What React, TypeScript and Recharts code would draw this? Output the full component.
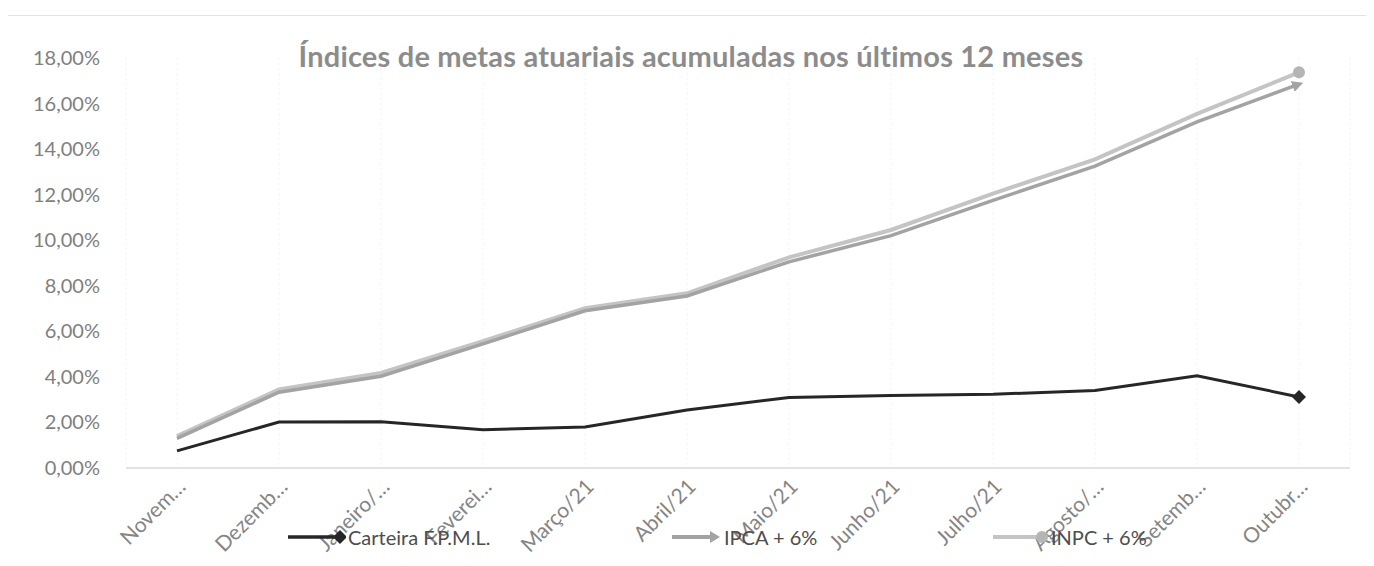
import React from "react";
import { LineChart, Line, XAxis, YAxis, CartesianGrid, Legend } from "recharts";

const months = [
  "Novem…",
  "Dezemb…",
  "Janeiro/…",
  "Feverei…",
  "Março/21",
  "Abril/21",
  "Maio/21",
  "Junho/21",
  "Julho/21",
  "Agosto/…",
  "Setemb…",
  "Outubr…",
];
const carteira = [0.75, 2.02, 2.03, 1.68, 1.8, 2.55, 3.1, 3.18, 3.24, 3.4, 4.05, 3.12];
const ipca = [1.3, 3.33, 4.03, 5.45, 6.9, 7.55, 9.05, 10.2, 11.75, 13.25, 15.2, 16.85];
const inpc = [1.4, 3.45, 4.17, 5.57, 7.02, 7.67, 9.25, 10.45, 12.05, 13.55, 15.55, 17.37];
const yTicks = [0, 2, 4, 6, 8, 10, 12, 14, 16, 18];

const seriesNames = ["Carteira F.P.M.L.", "IPCA + 6%", "INPC + 6%"];

const data = months.map((m, i) => ({
  month: m,
  carteira: carteira[i],
  ipca: ipca[i],
  inpc: inpc[i],
}));

const FONT = "Lato, 'Noto Sans', sans-serif";
const C_CART = "#262626";
const C_IPCA = "#a3a3a3";
const C_INPC = "#c4c4c4";
const last = months.length - 1;

const fmtPct = (v: number) => v.toFixed(2).replace(".", ",") + "%";

const XTick = (props: any) => {
  const { x, y, payload } = props;
  const ax = x + 10;
  const ay = y + 12;
  return (
    <text
      x={ax}
      y={ay}
      transform={`rotate(-45, ${ax}, ${ay})`}
      textAnchor="end"
      fill="#858585"
      fontSize={21}
      fontFamily={FONT}
    >
      {payload.value}
    </text>
  );
};

const YTick = (props: any) => {
  const { x, y, payload } = props;
  return (
    <text x={x} y={y} dy={7} textAnchor="end" fill="#808080" fontSize={20} fontFamily={FONT}>
      {fmtPct(payload.value)}
    </text>
  );
};

const diamondDot = (props: any) => {
  const { cx, cy, index } = props;
  if (index !== last) return <g key={`cd-${index}`} />;
  return (
    <path
      key={`cd-${index}`}
      d={`M${cx},${cy - 7} L${cx + 7},${cy} L${cx},${cy + 7} L${cx - 7},${cy} Z`}
      fill={C_CART}
    />
  );
};

const circleDot = (props: any) => {
  const { cx, cy, index } = props;
  if (index !== last) return <g key={`id-${index}`} />;
  return <circle key={`id-${index}`} cx={cx} cy={cy} r={6} fill="#b5b5b5" />;
};

const LegendIcon = ({ kind }: { kind: number }) => {
  if (kind === 0)
    return (
      <svg width={58} height={20}>
        <line x1={0} y1={10} x2={52} y2={10} stroke={C_CART} strokeWidth={3.5} />
        <path d="M52,3 L59,10 L52,17 L45,10 Z" fill={C_CART} />
      </svg>
    );
  if (kind === 1)
    return (
      <svg width={50} height={20}>
        <line x1={0} y1={10} x2={40} y2={10} stroke={C_IPCA} strokeWidth={4} />
        <path d="M38,4 L48,10 L38,16 Z" fill={C_IPCA} />
      </svg>
    );
  return (
    <svg width={56} height={20}>
      <line x1={0} y1={10} x2={50} y2={10} stroke={C_INPC} strokeWidth={4} />
      <circle cx={49} cy={10} r={6} fill="#b5b5b5" />
    </svg>
  );
};

const legendLefts = [280, 664, 985];

const LegendContent = () => (
  <div style={{ position: "relative", width: 1366, height: 0 }}>
    {seriesNames.map((name, i) => (
      <div
        key={name}
        style={{
          position: "absolute",
          left: legendLefts[i],
          top: 517,
          display: "flex",
          alignItems: "center",
          fontFamily: FONT,
          fontSize: 20,
          color: "#4d4d4d",
          whiteSpace: "nowrap",
        }}
      >
        <LegendIcon kind={i} />
        <span style={{ marginLeft: 2 }}>{name}</span>
      </div>
    ))}
  </div>
);

export default function App() {
  return (
    <div style={{ position: "relative", width: 1366, height: 558, background: "#ffffff" }}>
      <div
        style={{
          position: "absolute",
          left: -2,
          top: 7,
          right: -10,
          bottom: -10,
          borderTop: "1px solid #e3e3e3",
          borderLeft: "1px solid #e3e3e3",
        }}
      />
      <div
        style={{
          position: "absolute",
          left: 0,
          top: 31,
          width: 1366,
          textAlign: "center",
          fontFamily: FONT,
          fontWeight: 700,
          fontSize: 29,
          letterSpacing: 0.2,
          lineHeight: "34px",
          color: "#8c8c8c",
          zIndex: 2,
        }}
      >
        Índices de metas atuariais acumuladas nos últimos 12 meses
      </div>
      <LineChart
        width={1366}
        height={558}
        data={data}
        margin={{ top: 50, right: 24, bottom: 38, left: 0 }}
      >
        <defs>
          <marker
            id="arrowIpca"
            viewBox="0 0 10 10"
            refX="6"
            refY="5"
            markerWidth="3.2"
            markerHeight="3.2"
            orient="auto"
            markerUnits="strokeWidth"
          >
            <path d="M0,0 L10,5 L0,10 Z" fill={C_IPCA} />
          </marker>
        </defs>
        <CartesianGrid horizontal={false} vertical={true} stroke="#f2f2f2" strokeDasharray="2 3" />
        <XAxis
          dataKey="month"
          interval={0}
          padding={{ left: 51, right: 51 }}
          axisLine={{ stroke: "#d9d9d9", strokeWidth: 1.5 }}
          tickLine={false}
          tick={<XTick />}
          height={60}
        />
        <YAxis
          domain={[0, 18]}
          ticks={yTicks}
          interval={0}
          axisLine={false}
          tickLine={false}
          width={118}
          tickMargin={20}
          tick={<YTick />}
        />
        <Legend content={<LegendContent />} wrapperStyle={{ left: 0, top: 0, width: 1366, height: 0 }} />
        <Line
          type="linear"
          dataKey="inpc"
          name={seriesNames[2]}
          stroke={C_INPC}
          strokeWidth={4}
          dot={circleDot}
          activeDot={false}
          isAnimationActive={false}
        />
        <Line
          type="linear"
          dataKey="ipca"
          name={seriesNames[1]}
          stroke={C_IPCA}
          strokeWidth={3.5}
          dot={false}
          markerEnd="url(#arrowIpca)"
          activeDot={false}
          isAnimationActive={false}
        />
        <Line
          type="linear"
          dataKey="carteira"
          name={seriesNames[0]}
          stroke={C_CART}
          strokeWidth={3}
          dot={diamondDot}
          activeDot={false}
          isAnimationActive={false}
        />
      </LineChart>
    </div>
  );
}
